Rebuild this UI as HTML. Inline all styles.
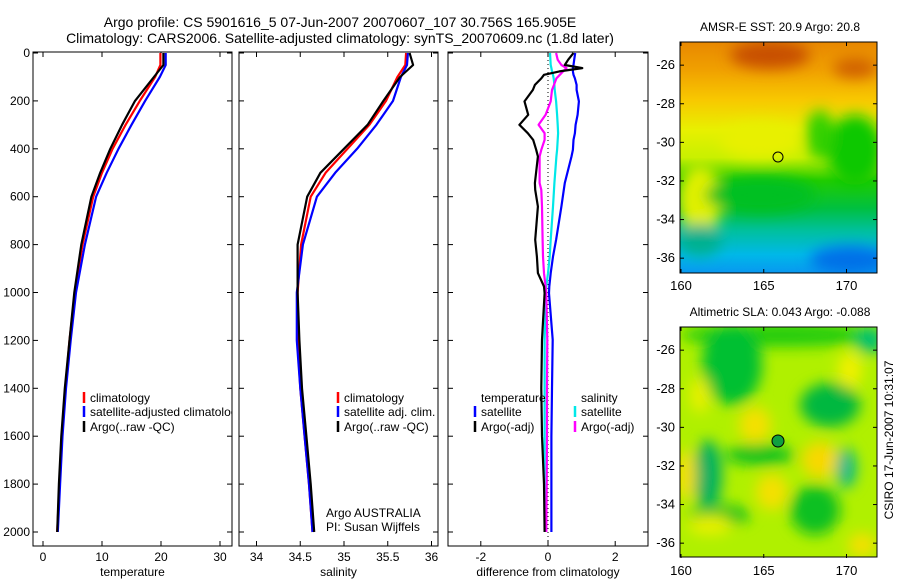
<!DOCTYPE html>
<html><head><meta charset="utf-8"><style>
html,body{margin:0;padding:0;background:#fff;}
svg{display:block;font-family:"Liberation Sans",sans-serif;}
text{fill:#000;}
</style></head><body>
<svg id="fig" width="900" height="580" viewBox="0 0 900 580" xmlns="http://www.w3.org/2000/svg">
<defs>
<clipPath id="c1"><rect x="33" y="52" width="199" height="494"/></clipPath>
<clipPath id="c2"><rect x="239" y="52" width="199" height="494"/></clipPath>
<clipPath id="c3"><rect x="448" y="52" width="200" height="494"/></clipPath>
<clipPath id="m1"><rect x="680" y="42" width="197" height="231"/></clipPath>
<clipPath id="m2"><rect x="680" y="327" width="197" height="230"/></clipPath>
<filter id="bl" x="-20%" y="-20%" width="140%" height="140%"><feGaussianBlur stdDeviation="7"/></filter>
<linearGradient id="sstg" x1="0" y1="0" x2="0" y2="1">
<stop offset="0" stop-color="#e88800"/><stop offset="0.12" stop-color="#f0a000"/><stop offset="0.25" stop-color="#f8c800"/>
<stop offset="0.38" stop-color="#e8f000"/><stop offset="0.5" stop-color="#c8f000"/><stop offset="0.6" stop-color="#20cc00"/>
<stop offset="0.72" stop-color="#00c040"/><stop offset="0.82" stop-color="#00c0a0"/><stop offset="0.92" stop-color="#00b8e8"/><stop offset="1" stop-color="#0898f0"/>
</linearGradient>
</defs>

<g>
<text x="340" y="27" font-size="14" text-anchor="middle">Argo profile: CS 5901616_5 07-Jun-2007 20070607_107 30.756S 165.905E</text>
<text x="340" y="43" font-size="14" text-anchor="middle">Climatology: CARS2006. Satellite-adjusted climatology: synTS_20070609.nc (1.8d later)</text>
</g>

<g id="panels"></g>

<g>
<text x="780" y="31" font-size="12" text-anchor="middle">AMSR-E SST: 20.9 Argo: 20.8</text>
<g clip-path="url(#m1)">
<rect x="680" y="42" width="197" height="231" fill="url(#sstg)"/>
<g filter="url(#bl)">
<ellipse cx="770" cy="55" rx="40" ry="14" fill="#c85000"/>
<ellipse cx="855" cy="68" rx="22" ry="10" fill="#d06000"/>
<ellipse cx="700" cy="200" rx="22" ry="35" fill="#e0f000"/>
<ellipse cx="760" cy="140" rx="40" ry="18" fill="#e8f000"/>
<ellipse cx="855" cy="150" rx="28" ry="35" fill="#10c800"/>
<ellipse cx="820" cy="135" rx="14" ry="25" fill="#30d000"/>
<ellipse cx="760" cy="195" rx="55" ry="18" fill="#00c020"/>
<ellipse cx="850" cy="260" rx="40" ry="14" fill="#0070e8"/>
<ellipse cx="700" cy="240" rx="22" ry="16" fill="#00b090"/>
</g>
<circle cx="778" cy="157" r="5" fill="none" stroke="#000" stroke-width="1"/>
</g>
<rect x="680" y="42" width="197" height="231" fill="none" stroke="#000"/>
<g id="map1ticks"></g>
</g>

<g>
<text x="780" y="316" font-size="12" text-anchor="middle">Altimetric SLA: 0.043 Argo: -0.088</text>
<g clip-path="url(#m2)">
<rect x="680" y="327" width="197" height="230" fill="#b0f000"/>
<g filter="url(#bl)">
<ellipse cx="780" cy="335" rx="100" ry="12" fill="#20cc10"/>
<ellipse cx="732" cy="365" rx="30" ry="40" fill="#00c030"/>
<ellipse cx="830" cy="405" rx="30" ry="22" fill="#00b840"/>
<ellipse cx="708" cy="475" rx="14" ry="35" fill="#00b060"/>
<ellipse cx="760" cy="455" rx="35" ry="10" fill="#10c020"/>
<ellipse cx="846" cy="468" rx="10" ry="20" fill="#00b890"/>
<ellipse cx="720" cy="515" rx="30" ry="10" fill="#10c020"/>
<ellipse cx="815" cy="510" rx="25" ry="25" fill="#10c020"/>
<ellipse cx="870" cy="340" rx="14" ry="14" fill="#00c070"/>
<ellipse cx="755" cy="425" rx="16" ry="18" fill="#f4e000"/>
<ellipse cx="820" cy="460" rx="18" ry="18" fill="#f8d800"/>
<ellipse cx="772" cy="492" rx="16" ry="18" fill="#f4e000"/>
<ellipse cx="686" cy="475" rx="10" ry="25" fill="#f4e000"/>
<ellipse cx="850" cy="370" rx="12" ry="18" fill="#f0f000"/>
<ellipse cx="710" cy="525" rx="22" ry="10" fill="#e8f000"/>
<ellipse cx="862" cy="545" rx="14" ry="12" fill="#f4e000"/>
<ellipse cx="700" cy="395" rx="10" ry="18" fill="#e8f000"/>
</g>
<circle cx="778" cy="441" r="6" fill="#10a040" stroke="#000" stroke-width="1"/>
</g>
<rect x="680" y="327" width="197" height="230" fill="none" stroke="#000"/>
<g id="map2ticks"></g>
</g>
<text transform="translate(893,440) rotate(-90)" font-size="12" text-anchor="middle">CSIRO 17-Jun-2007 10:31:07</text>
</svg>
<script>
// ---- data ----
const depths = [0,50,100,200,300,400,500,600,800,1000,1200,1400,1600,1800,2000];
const tempClim = [19.9,19.9,19.0,16.4,14.0,11.8,10.0,8.5,6.7,5.4,4.5,3.8,3.2,2.8,2.4];
const tempSat  = [20.8,20.8,19.8,17.3,15.0,12.8,10.8,9.0,7.1,5.6,4.7,3.9,3.3,2.9,2.5];
const tempArgo = [20.4,20.4,18.8,15.6,13.4,11.4,9.7,8.2,6.5,5.3,4.5,3.7,3.1,2.7,2.4];
const salClim = [35.71,35.70,35.61,35.48,35.29,35.04,34.79,34.62,34.51,34.47,34.47,34.50,34.55,34.60,34.64];
const salSat  = [35.73,35.72,35.65,35.56,35.37,35.15,34.90,34.69,34.53,34.46,34.46,34.50,34.55,34.60,34.64];
const salArgo = [35.75,35.79,35.64,35.45,35.27,35.00,34.73,34.58,34.47,34.47,34.49,34.52,34.57,34.62,34.66];
const diffDepths = [0,28,50,63,77,91,106,133,154,202,258,300,335,363,404,432,543,571,641,780,850,919,975,1003,1197,1400,1600,1800,2000];
const dTempArgo = [0.76,0.6,0.5,1.02,0.34,-0.12,-0.2,-0.39,-0.45,-0.7,-0.59,-0.85,-0.6,-0.44,-0.35,-0.3,-0.39,-0.38,-0.3,-0.38,-0.33,-0.3,-0.12,-0.1,-0.18,-0.2,-0.18,-0.12,-0.1];
const dTempSat  = [0.81,0.78,0.76,0.74,0.74,0.76,0.8,0.85,0.85,0.92,0.88,0.82,0.8,0.76,0.74,0.7,0.5,0.47,0.4,0.24,0.15,0.08,0.04,0.03,0.14,0.12,0.1,0.1,0.1];
const dSalArgo  = [0.24,0.29,0.4,0.55,0.45,0.35,0.25,0.18,0.12,0.08,-0.07,-0.28,-0.1,-0.1,-0.2,-0.25,-0.25,-0.2,-0.18,-0.16,-0.15,-0.12,-0.07,-0.05,-0.02,-0.03,-0.03,-0.04,-0.05];
const dSalSat   = [0.06,0.07,0.08,0.1,0.12,0.15,0.17,0.19,0.2,0.24,0.27,0.29,0.3,0.29,0.27,0.25,0.19,0.18,0.15,0.08,0.05,0.0,-0.05,-0.06,-0.1,-0.1,-0.1,-0.1,-0.1];
const depthTicks = [0,200,400,600,800,1000,1200,1400,1600,1800,2000];
const tempTicks = [0,10,20,30];
const salTicks = [34,34.5,35,35.5,36];
const diffTicks = [-2,0,2];
const latTicks = [-26,-28,-30,-32,-34,-36];
const lonTicks = [160,165,170];

const NS = "http://www.w3.org/2000/svg";
function mk(tag, attrs, parent){const e=document.createElementNS(NS,tag);for(const k in attrs)e.setAttribute(k,attrs[k]);parent.appendChild(e);return e;}
const yScale = d => 53 + d*0.2395;
const panelsG = document.getElementById('panels');

function drawPanel(opt){
  const g = mk('g',{},panelsG);
  
  
  const fr = mk('rect',{x:opt.x0,y:52,width:opt.w,height:494,fill:'none',stroke:'#000','stroke-width':1},g);
  
  
  depthTicks.forEach(d=>{
    const y=yScale(d);
    mk('line',{x1:opt.x0,x2:opt.x0+5,y1:y,y2:y,stroke:'#000'},g);
    mk('line',{x1:opt.x0+opt.w-5,x2:opt.x0+opt.w,y1:y,y2:y,stroke:'#000'},g);
    if(opt.yLabels){
      const t=mk('text',{x:opt.x0-3,y:y+4,'font-size':12,'text-anchor':'end'},g);
      t.textContent=d;
      
      
    }
  });
  opt.ticks.forEach(v=>{
    const x=opt.xs(v);
    mk('line',{x1:x,x2:x,y1:546,y2:541,stroke:'#000'},g);
    mk('line',{x1:x,x2:x,y1:52,y2:57,stroke:'#000'},g);
    const t=mk('text',{x:x,y:561,'font-size':12,'text-anchor':'middle'},g);
    t.textContent=v;
    
    
  });
  const tt=mk('text',{x:opt.x0+opt.w/2,y:576,'font-size':12,'text-anchor':'middle'},g);
  tt.textContent=opt.title;
  
  
  const lg = mk('g',{'clip-path':opt.clip},g);
  if(opt.zeroLine){
    mk('line',{x1:opt.xs(0),x2:opt.xs(0),y1:52,y2:546,stroke:'#000','stroke-dasharray':'1,3'},lg);
  }
  opt.series.forEach(s=>{
    const pts=s.vals.map((v,i)=>opt.xs(v).toFixed(1)+','+yScale(s.dep[i]).toFixed(1)).join(' ');
    const p=mk('polyline',{points:pts,fill:'none',stroke:s.color,'stroke-width':2.2,'stroke-linejoin':'round'},lg);
    
    
  });
  const leg = mk('g',{'clip-path':opt.clip},g);
  
  
  opt.legend.forEach(l=>{
    if(l.color) mk('line',{x1:l.x-6,x2:l.x-6,y1:l.y-10,y2:l.y+1,stroke:l.color,'stroke-width':2.5},leg);
    const t=mk('text',{x:l.x,y:l.y,'font-size':12},leg);
    t.textContent=l.text;
    
    
  });
}

drawPanel({name:'temperature-panel',x0:33,w:199,clip:'url(#c1)',yLabels:true,title:'temperature',
  xs:v=>43+v*5.9,ticks:tempTicks,
  series:[{name:'temp-climatology-line',vals:tempClim,dep:depths,color:'#ff0000'},
          {name:'temp-satellite-line',vals:tempSat,dep:depths,color:'#0000ff'},
          {name:'temp-argo-line',vals:tempArgo,dep:depths,color:'#000'}],
  legend:[{x:90,y:402,text:'climatology',color:'#ff0000'},{x:90,y:416,text:'satellite-adjusted climatology',color:'#0000ff'},{x:90,y:431,text:'Argo(..raw -QC)',color:'#000'}]});

drawPanel({name:'salinity-panel',x0:239,w:199,clip:'url(#c2)',yLabels:false,title:'salinity',
  xs:v=>256.5+(v-34)*87.5,ticks:salTicks,
  series:[{name:'sal-climatology-line',vals:salClim,dep:depths,color:'#ff0000'},
          {name:'sal-satellite-line',vals:salSat,dep:depths,color:'#0000ff'},
          {name:'sal-argo-line',vals:salArgo,dep:depths,color:'#000'}],
  legend:[{x:344,y:402,text:'climatology',color:'#ff0000'},{x:344,y:416,text:'satellite adj. clim.',color:'#0000ff'},{x:344,y:431,text:'Argo(..raw -QC)',color:'#000'},
          {x:326,y:517,text:'Argo AUSTRALIA'},{x:326,y:531,text:'PI: Susan Wijffels'}]});

drawPanel({name:'difference-panel',x0:448,w:200,clip:'url(#c3)',yLabels:false,title:'difference from climatology',zeroLine:true,
  xs:v=>548+v*33.6,ticks:diffTicks,
  series:[{name:'diff-temp-satellite-line',vals:dTempSat,dep:diffDepths,color:'#0000ff'},
          {name:'diff-sal-satellite-line',vals:dSalSat,dep:diffDepths,color:'#00e8e8'},
          {name:'diff-sal-argo-line',vals:dSalArgo,dep:diffDepths,color:'#ff00ff'},
          {name:'diff-temp-argo-line',vals:dTempArgo,dep:diffDepths,color:'#000'}],
  legend:[{x:481,y:402,text:'temperature'},{x:481,y:416,text:'satellite',color:'#0000ff'},{x:481,y:431,text:'Argo(-adj)',color:'#000'},
          {x:581,y:402,text:'salinity'},{x:581,y:416,text:'satellite',color:'#00e8e8'},{x:581,y:431,text:'Argo(-adj)',color:'#ff00ff'}]});

function mapTicks(id, top){
  const g=document.getElementById(id);
  const ly = lat => top + (-24.8 - lat)*19.3;
  const lx = lon => 681 + (lon-160)*16.55;
  latTicks.forEach(l=>{
    const y=ly(l);
    mk('line',{x1:680,x2:684,y1:y,y2:y,stroke:'#000'},g);
    mk('line',{x1:873,x2:877,y1:y,y2:y,stroke:'#000'},g);
    const t=mk('text',{x:675,y:y+4,'font-size':13,'text-anchor':'end'},g);
    t.textContent=l;
    
    
  });
  lonTicks.forEach(l=>{
    const x=lx(l);
    mk('line',{x1:x,x2:x,y1:top,y2:top+4,stroke:'#000'},g);
    mk('line',{x1:x,x2:x,y1:top+227,y2:top+231,stroke:'#000'},g);
    const t=mk('text',{x:x,y:top+248,'font-size':13,'text-anchor':'middle'},g);
    t.textContent=l;
    
    
  });
}
mapTicks('map1ticks',42);
mapTicks('map2ticks',327);
</script>
</body></html>
